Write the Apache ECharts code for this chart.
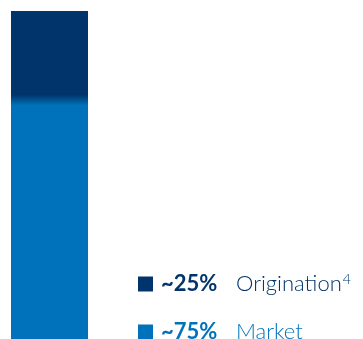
<!DOCTYPE html>
<html>
<head>
<meta charset="utf-8">
<script src="https://cdn.jsdelivr.net/npm/echarts@6/dist/echarts.min.js"></script>
<style>
  html, body { margin: 0; padding: 0; background: #ffffff; }
  #chart { width: 363px; height: 339px; }
</style>
</head>
<body>
<div id="chart"></div>
<script>
// Share of volume by source, one stacked column
const categories = ['Total'];
const seriesNames = ['Origination', 'Market'];
const originationValues = [25];
const marketValues = [75];
const shareLabels = ['~25%', '~75%'];
const footnoteMarks = ['4', ''];

const NAVY = '#00346B';
const BLUE = '#0071BB';
const MID = '#01538F';

const chart = echarts.init(document.getElementById('chart'));

const indexOf = {};
seriesNames.forEach((n, i) => { indexOf[n] = i; });
const swatch = [NAVY, BLUE];

chart.setOption({
  animation: false,
  // the column runs past the bottom edge of the canvas
  grid: { left: 11, width: 77, top: 11, height: 356, outerBoundsMode: 'none', containLabel: false },
  xAxis: { type: 'category', data: categories, show: false },
  yAxis: { type: 'value', min: 0, max: 100, show: false },
  legend: {
    data: seriesNames.map((n, i) => ({ name: n, itemStyle: { color: swatch[i] } })),
    orient: 'vertical',
    left: 138,
    top: 272,
    height: 140,
    padding: 0,
    icon: 'rect',
    itemWidth: 15,
    itemHeight: 15,
    itemGap: 25,
    selectedMode: false,
    formatter: function (name) {
      const i = indexOf[name];
      const k = i === 0 ? 'a' : 'b';
      const sup = footnoteMarks[i] ? '{s' + k + '|' + footnoteMarks[i] + '}' : '';
      return '{v' + k + '|' + shareLabels[i] + '}{n' + k + '|' + name + '}' + sup;
    },
    textStyle: {
      fontFamily: 'Lato',
      rich: {
        va: { fontFamily: 'Lato', fontSize: 22, fontWeight: 'bold', color: NAVY, width: 75, padding: [0, 0, 0, 3], lineHeight: 26 },
        na: { fontFamily: 'Lato', fontSize: 22, fontWeight: 300, color: NAVY, lineHeight: 26 },
        sa: { fontFamily: 'Lato', fontSize: 14, fontWeight: 300, color: NAVY, padding: [0, 0, 10, 1], lineHeight: 26 },
        vb: { fontFamily: 'Lato', fontSize: 22, fontWeight: 'bold', color: BLUE, width: 75, padding: [0, 0, 0, 3], lineHeight: 26 },
        nb: { fontFamily: 'Lato', fontSize: 22, fontWeight: 300, color: BLUE, lineHeight: 26 }
      }
    }
  },
  series: [
    {
      name: 'Market',
      type: 'bar',
      stack: 'total',
      barWidth: '100%',
      silent: true,
      itemStyle: {
        color: new echarts.graphic.LinearGradient(0, 0, 0, 1, [
          { offset: 0, color: MID },
          { offset: 0.02, color: BLUE },
          { offset: 1, color: BLUE }
        ])
      },
      data: marketValues
    },
    {
      name: 'Origination',
      type: 'bar',
      stack: 'total',
      barWidth: '100%',
      silent: true,
      itemStyle: {
        color: new echarts.graphic.LinearGradient(0, 0, 0, 1, [
          { offset: 0, color: NAVY },
          { offset: 0.94, color: NAVY },
          { offset: 1, color: MID }
        ])
      },
      data: originationValues
    }
  ]
});
</script>
</body>
</html>
